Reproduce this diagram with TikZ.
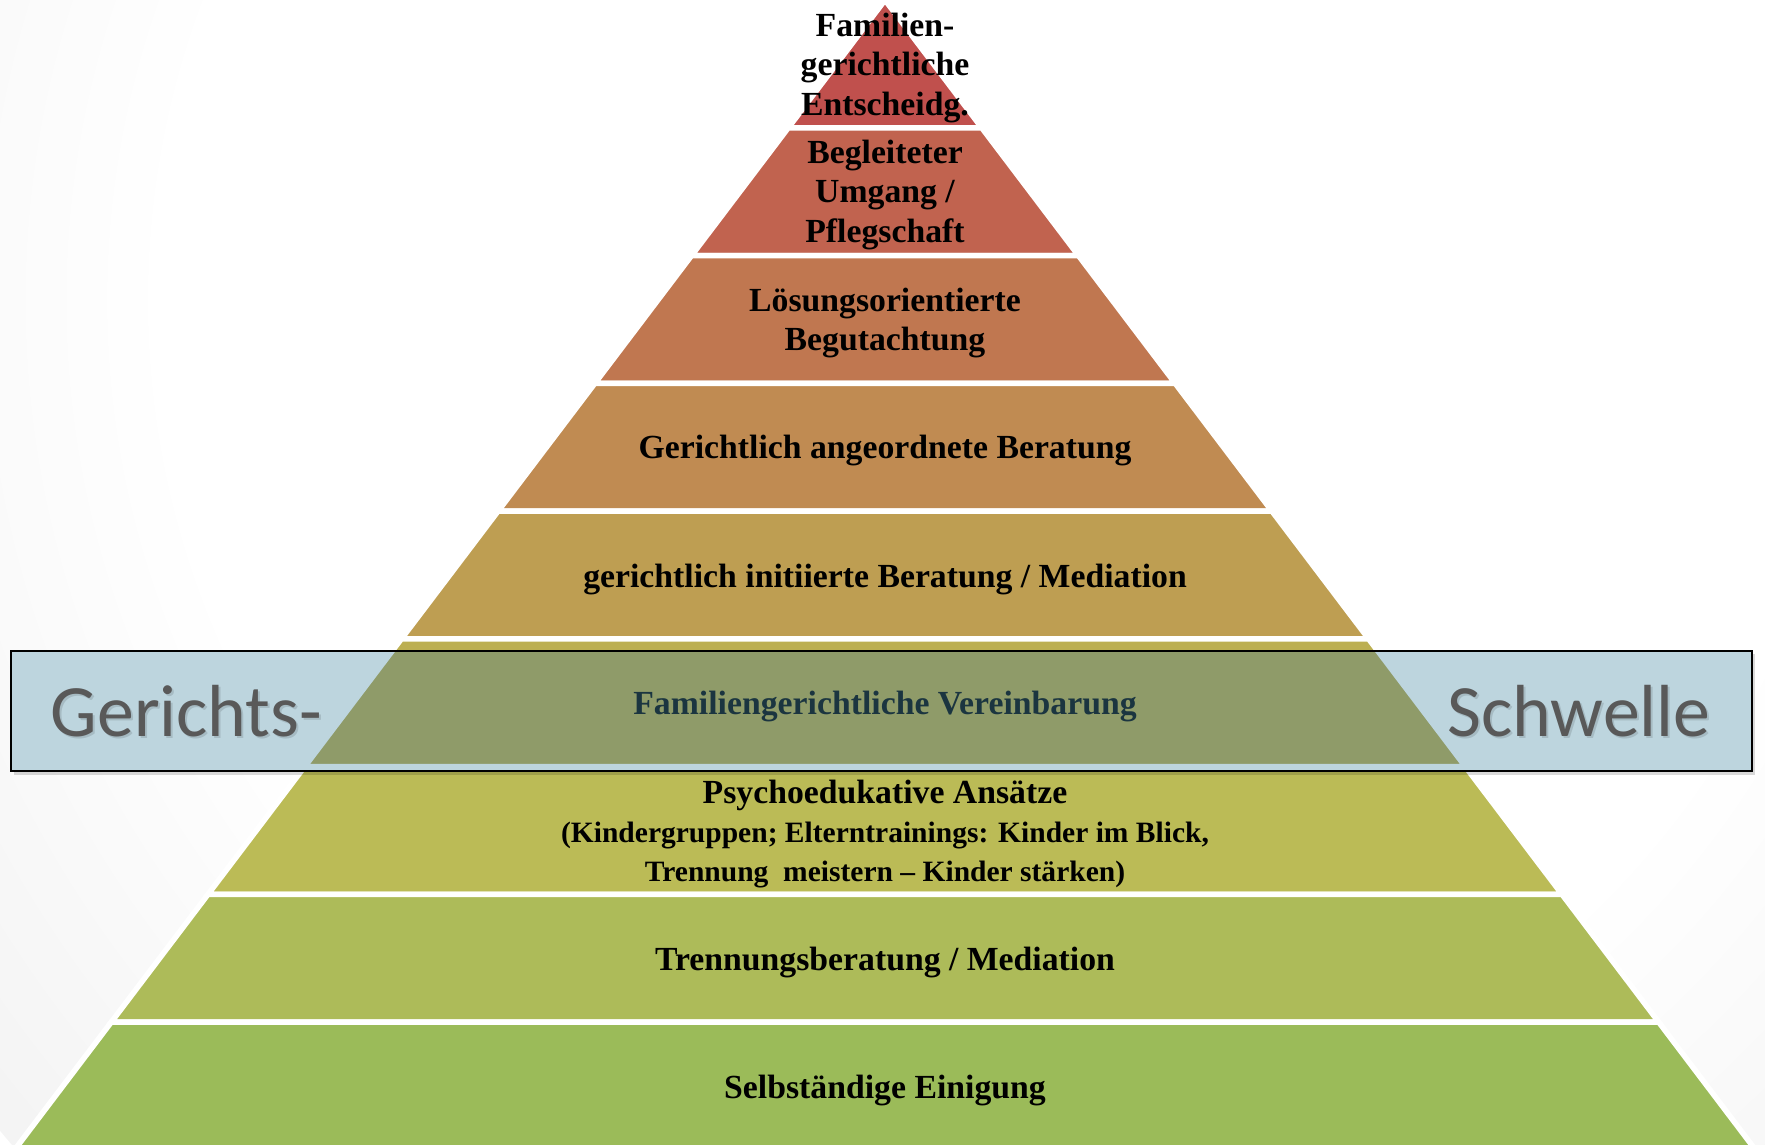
\documentclass[tikz,border=0pt]{standalone}
\usepackage{fontspec}
\setmainfont{Liberation Serif}
\newfontfamily\calibri{Carlito}
\usepackage{xcolor}

% pyramid colours, top to bottom
\definecolor{bandA}{HTML}{C0504D}
\definecolor{bandB}{HTML}{C1634F}
\definecolor{bandC}{HTML}{C07750}
\definecolor{bandD}{HTML}{C08B52}
\definecolor{bandE}{HTML}{BE9E52}
\definecolor{bandF}{HTML}{BCAF52}
\definecolor{bandG}{HTML}{BBBB56}
\definecolor{bandH}{HTML}{ADBB59}
\definecolor{bandI}{HTML}{9BBB59}
\definecolor{schwelleblue}{HTML}{BDD5DE}
\definecolor{schwelleband}{HTML}{8F9B69}
\definecolor{schwelletext}{HTML}{1B3540}
\definecolor{labelgray}{HTML}{595959}

\pgfdeclareradialshading{slidebg}{\pgfpoint{0bp}{0bp}}{color(0bp)=(white); color(16bp)=(white); color(28bp)=(black!6); color(38bp)=(black!11); color(50bp)=(black!18)}

\begin{document}
\begin{tikzpicture}[x=0.1mm, y=-0.1mm]
\tikzset{bandtext/.style={font=\bfseries\fontsize{9.6}{11.1}\selectfont, align=center, inner sep=0pt}}
\tikzset{sidetext/.style={font=\calibri\fontsize{21}{25}\selectfont, text=labelgray, inner sep=0pt}}
\useasboundingbox (0,0) rectangle (1765,1144);
\clip (0,0) rectangle (1765,1144);
\shade[shading=slidebg] (1000,300) circle (1300);

% nine bands, apex at (885,0)
\foreach \c [count=\k] in {bandA,bandB,bandC,bandD,bandE,bandF,bandG,bandH,bandI} {
  \pgfmathsetmacro\yt{(\k-1)*127.75}
  \pgfmathsetmacro\yb{\k*127.75}
  \filldraw[fill=\c, draw=white, line width=0.55mm]
    ({885-0.757*\yt},\yt) -- ({885+0.757*\yt},\yt) -- ({885+0.757*\yb},\yb) -- ({885-0.757*\yb},\yb) -- cycle;
}

% threshold bar
\fill[black, opacity=0.15] (14,654) rectangle (1755,775);
\begin{scope}
  \clip (11,651) rectangle (1752,771);
  \fill[schwelleblue] (11,651) rectangle (1752,771);
  \filldraw[fill=schwelleband, draw=schwelleblue, line width=0.55mm]
    ({885-0.757*638.75},638.75) -- ({885+0.757*638.75},638.75) -- ({885+0.757*766.5},766.5) -- ({885-0.757*766.5},766.5) -- cycle;
\end{scope}
\draw[black, line width=0.2mm] (11,651) rectangle (1752,771);

\node[sidetext, text=black, opacity=0.12, anchor=base west] (gerichtshadow) at (52,738) {Gerichts-};
\node[sidetext, anchor=base west] (gericht) at (50,736) {Gerichts-};
\node[sidetext, text=black, opacity=0.12, anchor=base east] (schwelleshadow) at (1713,738) {Schwelle};
\node[sidetext, anchor=base east] (schwelle) at (1711,736) {Schwelle};

% band labels
\node[bandtext] (fam)  at (885,68)  {Familien-\\gerichtliche\\Entscheidg.};
\node[bandtext] (begl) at (885,195) {Begleiteter\\Umgang /\\Pflegschaft};
\node[bandtext] (loes) at (885,323) {Lösungsorientierte\\Begutachtung};
\node[bandtext] (gerb) at (885,451) {Gerichtlich angeordnete Beratung};
\node[bandtext] (init) at (885,579) {gerichtlich initiierte Beratung / Mediation};
\node[bandtext, text=schwelletext] (vere) at (885,706) {Familiengerichtliche Vereinbarung};
\node[bandtext] (psy)  at (885,834) {Psychoedukative Ansätze\\{\fontsize{8.4}{11.1}\selectfont (Kindergruppen; Elterntrainings: Kinder im Blick,}\\{\fontsize{8.4}{11.1}\selectfont Trennung\ \ meistern – Kinder stärken)}};
\node[bandtext] (tren) at (885,962) {Trennungsberatung / Mediation};
\node[bandtext] (selb) at (885,1090) {Selbständige Einigung};
\end{tikzpicture}
\end{document}
